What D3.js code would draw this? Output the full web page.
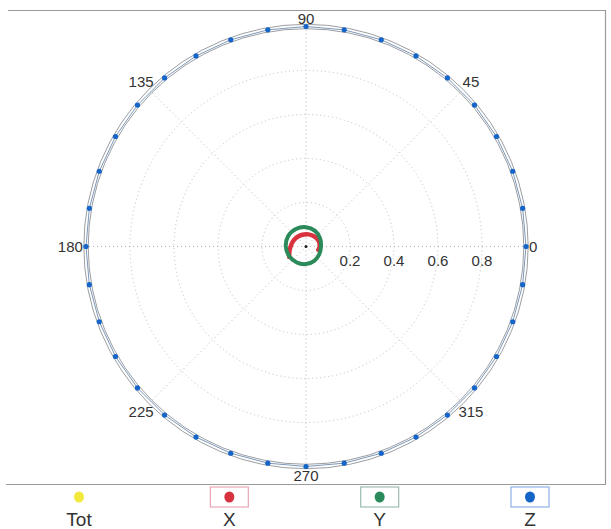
<!DOCTYPE html>
<html><head><meta charset="utf-8">
<script src="https://cdn.jsdelivr.net/npm/d3@7"></script>
<style>body{margin:0;background:#fff}svg{display:block}text{font-family:"Liberation Sans",Arial,sans-serif}</style>
</head><body><svg id="c" width="611" height="529"></svg>
<script>
const angleTicks = [0,45,90,135,180,225,270,315];
const angleLabels = ["0","45","90","135","180","225","270","315"];
const radiusTicks = [0.2,0.4,0.6,0.8];
const radiusLabels = ["0.2","0.4","0.6","0.8"];
const zTheta = [0,10,20,30,40,50,60,70,80,90,100,110,120,130,140,150,160,170,180,190,200,210,220,230,240,250,260,270,280,290,300,310,320,330,340,350,360];
const zR = [1,1,1,1,1,1,1,1,1,1,1,1,1,1,1,1,1,1,1,1,1,1,1,1,1,1,1,1,1,1,1,1,1,1,1,1,1];
const yTheta = [0,30,60,90,120,150,180,210,240,270,300,330,360];
const yR = [0.068,0.074,0.082,0.088,0.092,0.094,0.092,0.088,0.084,0.080,0.075,0.070,0.068];
const xTheta = [212,195,180,160,140,120,100,80,60,40,20,0,345];
const xR = [0.090,0.078,0.070,0.064,0.060,0.057,0.055,0.056,0.058,0.061,0.063,0.062,0.058];
const legendNames = ["Tot","X","Y","Z"];
const legendColors = ["#f3e83c","#d8323f","#2a8a5a","#1565c8"];
const legendBoxColors = [null,"#e9a7b4","#9fbcb3","#8fb0e6"];

const svg = d3.select("#c");
const cx = 306, cy = 246.5, R = 220;
const r = d3.scaleLinear().domain([0,1]).range([0,R]);
const a = d3.scaleLinear().domain([0,360]).range([0,2*Math.PI]);
const px = (t,v)=> cx + r(v)*Math.cos(a(t));
const py = (t,v)=> cy - r(v)*Math.sin(a(t));

// frame
svg.append("path").attr("d",`M8,10.5H605.5V484.5H6`).attr("fill","none").attr("stroke","#9a9a9a").attr("stroke-width",1.2);

const g = svg.append("g");
// grid circles
g.selectAll("circle.grid").data(radiusTicks).join("circle")
 .attr("cx",cx).attr("cy",cy).attr("r",d=>r(d))
 .attr("fill","none").attr("stroke","#bdbdbd").attr("stroke-width",1).attr("stroke-dasharray","1,3");
// spokes
g.selectAll("line.spoke").data(angleTicks).join("line")
 .attr("x1",cx).attr("y1",cy).attr("x2",d=>px(d,1)).attr("y2",d=>py(d,1))
 .attr("stroke","#b5b5b5").attr("stroke-width",1).attr("stroke-dasharray","1,3");

// outer ring (gray double)
[0.99,1.01].forEach(v=>{
  g.append("circle").attr("cx",cx).attr("cy",cy).attr("r",r(v)).attr("fill","none").attr("stroke","#8e9398").attr("stroke-width",0.9);
});

const line = d3.lineRadial().angle(d=>Math.PI/2 - a(d[0])).radius(d=>r(d[1])).curve(d3.curveCardinal);
const lineC = d3.lineRadial().angle(d=>Math.PI/2 - a(d[0])).radius(d=>r(d[1])).curve(d3.curveCardinalClosed);

// Z series
const zData = zTheta.map((t,i)=>[t,zR[i]]);
g.append("path").attr("transform",`translate(${cx},${cy})`).attr("d",d3.lineRadial().angle(d=>Math.PI/2 - a(d[0])).radius(d=>r(d[1])).curve(d3.curveLinear)(zData))
 .attr("fill","none").attr("stroke","#7d98b8").attr("stroke-width",1);
g.selectAll("circle.z").data(zData.slice(0,36)).join("circle")
 .attr("cx",d=>px(d[0],d[1])).attr("cy",d=>py(d[0],d[1])).attr("r",2.6).attr("fill",legendColors[3]);

// X series (red)
const xData = xTheta.map((t,i)=>[t,xR[i]]);
g.append("path").attr("transform",`translate(${cx},${cy})`).attr("d",line(xData))
 .attr("fill","none").attr("stroke",legendColors[1]).attr("stroke-width",4.5).attr("stroke-linecap","round");
// Y series (green)
const yData = yTheta.slice(0,12).map((t,i)=>[t,yR[i]]);
g.append("path").attr("transform",`translate(${cx},${cy})`).attr("d",lineC(yData))
 .attr("fill","none").attr("stroke",legendColors[2]).attr("stroke-width",4);
g.append("circle").attr("cx",cx).attr("cy",cy).attr("r",1.5).attr("fill","#222");

// angle labels
const lab = g.append("g").attr("font-size",15).attr("fill","#333");
angleTicks.forEach((t,i)=>{
  let x = px(t,1.06), y = py(t,1.06);
  let anchor = "middle";
  if(t===0){x = px(t,1.005)+2; anchor="start";}
  if(t===180){x = px(t,1.005)-2; anchor="end";}
  if(t===90) y = py(t,1.035);
  if(t===270) y = py(t,1.04);
  lab.append("text").attr("x",x).attr("y",y).attr("text-anchor",anchor).attr("dominant-baseline","central").text(angleLabels[i]);
});
radiusTicks.forEach((v,i)=>{
  lab.append("text").attr("x",px(0,v)).attr("y",cy+14).attr("text-anchor","middle").attr("dominant-baseline","central").text(radiusLabels[i]);
});

// legend
const lx = d3.scalePoint().domain(legendNames).range([79,530]);
const lg = svg.append("g");
legendNames.forEach((n,i)=>{
  const x = lx(n);
  if(legendBoxColors[i]) lg.append("rect").attr("x",x-19).attr("y",487).attr("width",38).attr("height",20)
     .attr("fill","#fff").attr("stroke",legendBoxColors[i]).attr("stroke-width",1.2);
  lg.append("ellipse").attr("cx",x).attr("cy",497).attr("rx",5).attr("ry",5.5).attr("fill",legendColors[i]);
  lg.append("text").attr("x",x).attr("y",526).attr("text-anchor","middle").attr("font-size",19).attr("fill","#333").text(n);
});
</script></body></html>
